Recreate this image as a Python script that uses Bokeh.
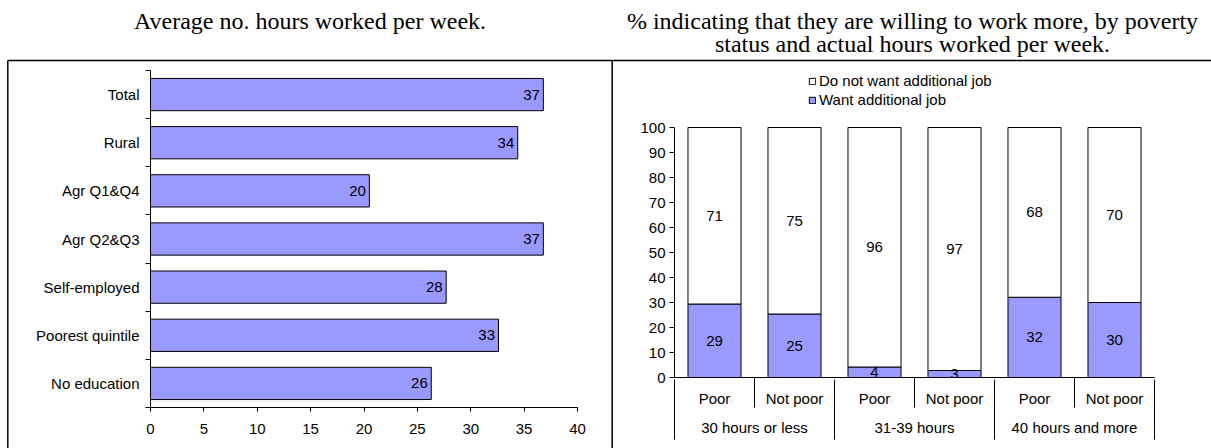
from bokeh.plotting import figure
from bokeh.models import (ColumnDataSource, Range1d, FixedTicker, LinearAxis,
                          Legend, LegendItem)
from bokeh.embed import file_html
from bokeh.resources import INLINE
from bokeh.core.properties import value

# ---------------- data: left panel ----------------
left_title = "Average no. hours worked per week."
hours_categories = ["Total", "Rural", "Agr Q1&Q4", "Agr Q2&Q3", "Self-employed",
                    "Poorest quintile", "No education"]
hours_values = [36.8, 34.4, 20.5, 36.8, 27.7, 32.6, 26.3]
hours_ticks = [0, 5, 10, 15, 20, 25, 30, 35, 40]

# ---------------- data: right panel ----------------
right_title = ["% indicating that they are willing to work more, by poverty",
               "status and actual hours worked per week."]
groups = ["30 hours or less", "31-39 hours", "40 hours and more"]
statuses = ["Poor", "Not poor"]
want = [29.4, 25.4, 4.2, 2.8, 32.1, 30.0]
not_want = [70.6, 74.6, 95.8, 97.2, 67.9, 70.0]
pct_ticks = [0, 10, 20, 30, 40, 50, 60, 70, 80, 90, 100]
series_names = ["Want additional job", "Do not want additional job"]

BLUE = "#9999FF"
SANS = "Liberation Sans"
SERIF = "Liberation Serif"
FS = "15px"
W, H = 1211, 448


def clean(p):
    p.outline_line_color = None
    p.background_fill_color = None
    p.border_fill_color = None
    for g in p.grid:
        g.visible = False


def style_axis(ax):
    ax.axis_line_color = "black"
    ax.major_label_text_font = SANS
    ax.major_label_text_font_size = FS
    ax.major_label_text_color = "black"


# ======================= BACKGROUND: panel boxes + titles =======================
p0 = figure(width=W, height=H, x_range=Range1d(0, W), y_range=Range1d(H, 0),
            output_backend="svg", toolbar_location=None, title=None,
            x_axis_location=None, y_axis_location=None,
            min_border_left=0, min_border_right=0, min_border_top=0, min_border_bottom=0)
clean(p0)
p0.background_fill_color = "white"
p0.border_fill_color = "white"
box_x0 = [7.3, 7.3, 611.7]
box_y0 = [60, 60, 60]
box_x1 = [7.3, W + 5, 611.7]
box_y1 = [H + 5, 60, H + 5]
p0.segment(x0=box_x0, y0=box_y0, x1=box_x1, y1=box_y1, line_color="black", line_width=1.5)
titles = [left_title] + right_title
title_x = [309.5, 912, 912]
title_y = [20, 20, 43]
p0.text(x=title_x, y=title_y, text=titles, text_align="center", text_baseline="middle",
        text_font=value(SERIF), text_font_size="24px", text_color="black")

# ======================= LEFT chart =======================
n = len(hours_categories)
pos = [i + 0.5 for i in range(n)]
p1 = figure(width=603, height=H, x_range=Range1d(0, 40), y_range=Range1d(n, 0),
            output_backend="svg", toolbar_location=None, title=None,
            x_axis_location=None, y_axis_location=None,
            min_border_left=150, min_border_right=26, min_border_top=70, min_border_bottom=41,
            styles={"position": "absolute", "left": "0px", "top": "0px"})
clean(p1)

src1 = ColumnDataSource(dict(y=pos, v=hours_values,
                             lab=[str(round(v)) for v in hours_values]))
p1.hbar(y="y", left=0, right="v", height=0.67, source=src1,
        fill_color=BLUE, line_color="black", line_width=1)
p1.text(x="v", y="y", text="lab", source=src1, x_offset=-3.5,
        text_align="right", text_baseline="middle",
        text_font=value(SANS), text_font_size=FS, text_color="black")

xax1 = LinearAxis(ticker=FixedTicker(ticks=hours_ticks))
style_axis(xax1)
xax1.major_tick_out = 4
xax1.major_tick_in = 0
xax1.minor_tick_out = 0
xax1.minor_tick_line_color = None
xax1.major_tick_line_color = "black"
xax1.major_label_standoff = 12
p1.add_layout(xax1, "below")

yax1 = LinearAxis(ticker=FixedTicker(ticks=pos, minor_ticks=list(range(n + 1))))
style_axis(yax1)
yax1.major_label_overrides = {p: c for p, c in zip(pos, hours_categories)}
yax1.major_tick_out = 0
yax1.major_tick_in = 0
yax1.major_tick_line_color = None
yax1.minor_tick_out = 5
yax1.minor_tick_in = 0
yax1.minor_tick_line_color = "black"
yax1.major_label_standoff = 6
p1.add_layout(yax1, "left")

# ======================= RIGHT chart =======================
m = len(want)
xpos = [i + 0.5 for i in range(m)]
# frame runs from page y=61 to y=377; 100% sits at y=127 (250 px for 100 units)
y_top = 100 * (377 - 61) / 250
p2 = figure(width=599, height=H, x_range=Range1d(0, m), y_range=Range1d(0, y_top),
            output_backend="svg", toolbar_location=None, title=None,
            x_axis_location=None, y_axis_location=None,
            min_border_left=62, min_border_right=57, min_border_top=61, min_border_bottom=71,
            styles={"position": "absolute", "left": "612px", "top": "0px"})
clean(p2)

src2 = ColumnDataSource(dict(x=xpos, want=want, not_want=not_want,
                             want_mid=[w / 2 for w in want],
                             not_mid=[w + nw / 2 for w, nw in zip(want, not_want)],
                             want_lab=[str(round(w)) for w in want],
                             not_lab=[str(round(nw)) for nw in not_want]))
rs = p2.vbar_stack(["want", "not_want"], x="x", width=0.663, source=src2,
                   fill_color=[BLUE, "white"], line_color="black", line_width=1)
for col, lab in [("want_mid", "want_lab"), ("not_mid", "not_lab")]:
    p2.text(x="x", y=col, text=lab, source=src2, text_align="center",
            text_baseline="middle", text_font=value(SANS), text_font_size=FS,
            text_color="black")

yax2 = LinearAxis(ticker=FixedTicker(ticks=pct_ticks), bounds=(0, 100))
style_axis(yax2)
yax2.major_tick_out = 5
yax2.major_tick_in = 0
yax2.minor_tick_out = 0
yax2.minor_tick_line_color = None
yax2.major_tick_line_color = "black"
yax2.major_label_standoff = 4
p2.add_layout(yax2, "left")

sub_labels = [s for g in groups for s in statuses]
ns = len(statuses)
inner_bounds = [i * ns + k for i in range(len(groups)) for k in range(1, ns)]
outer_bounds = [i * ns for i in range(len(groups) + 1)]
group_centers = [i * ns + ns / 2 for i in range(len(groups))]

xax2a = LinearAxis(ticker=FixedTicker(ticks=xpos, minor_ticks=inner_bounds))
style_axis(xax2a)
xax2a.major_label_overrides = {p: s for p, s in zip(xpos, sub_labels)}
xax2a.major_tick_out = 0
xax2a.major_tick_in = 0
xax2a.major_tick_line_color = None
xax2a.minor_tick_out = 30
xax2a.minor_tick_in = 0
xax2a.minor_tick_line_color = "black"
xax2a.major_label_standoff = -18
p2.add_layout(xax2a, "below")

xax2b = LinearAxis(ticker=FixedTicker(ticks=group_centers, minor_ticks=outer_bounds))
style_axis(xax2b)
xax2b.axis_line_color = None
xax2b.major_label_overrides = {p: g for p, g in zip(group_centers, groups)}
xax2b.major_tick_out = 0
xax2b.major_tick_in = 0
xax2b.major_tick_line_color = None
xax2b.minor_tick_out = 30
xax2b.minor_tick_in = 30
xax2b.minor_tick_line_color = "black"
xax2b.major_label_standoff = -21
p2.add_layout(xax2b, "below")

legend = Legend(items=[LegendItem(label=series_names[1], renderers=[rs[1]]),
                       LegendItem(label=series_names[0], renderers=[rs[0]])],
                location=(134, 269), orientation="vertical",
                border_line_color=None, background_fill_alpha=0,
                padding=0, margin=0, spacing=2, glyph_width=8, glyph_height=8,
                label_standoff=3, label_height=17,
                label_text_font=SANS, label_text_font_size=FS, label_text_color="black")
p2.add_layout(legend)

open("out.html", "w").write(file_html([p0, p1, p2], INLINE))
